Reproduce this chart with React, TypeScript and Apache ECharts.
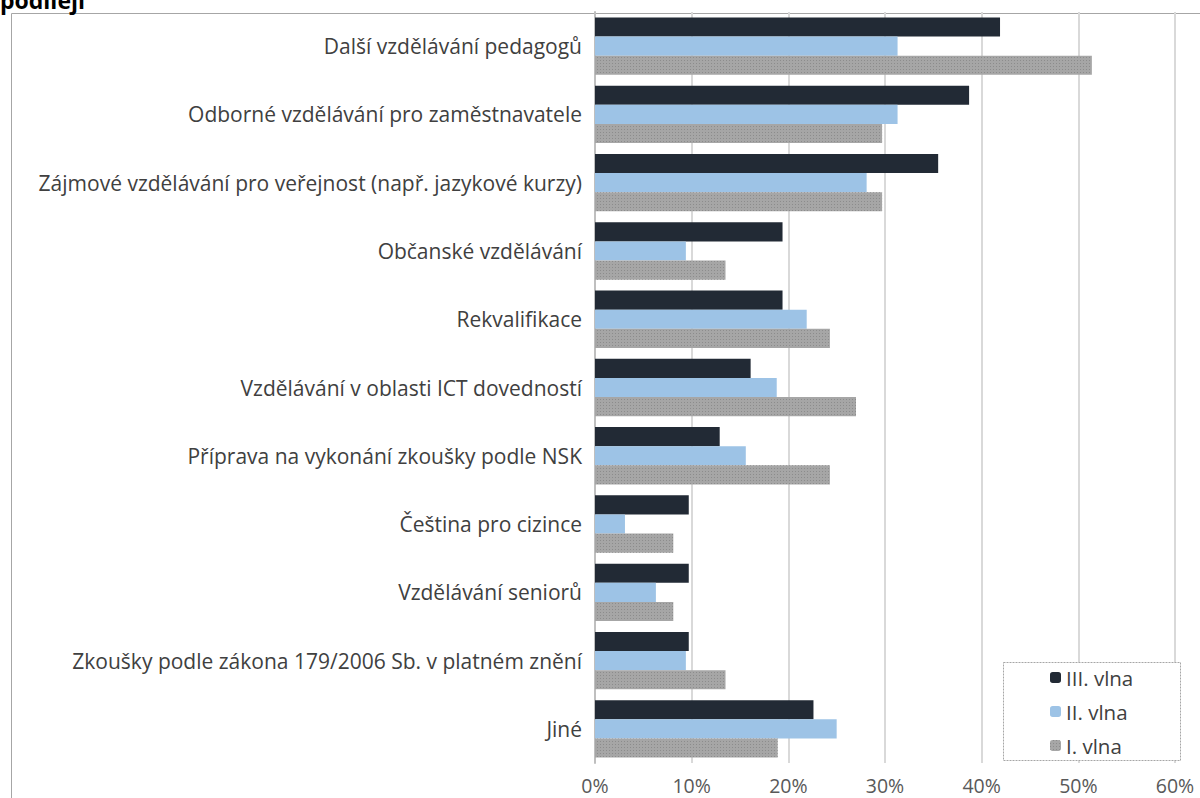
import React, { useEffect, useRef } from "react";
import * as echarts from "echarts";

const categories = [
  "Další vzdělávání pedagogů",
  "Odborné vzdělávání pro zaměstnavatele",
  "Zájmové vzdělávání pro veřejnost (např. jazykové kurzy)",
  "Občanské vzdělávání",
  "Rekvalifikace",
  "Vzdělávání v oblasti ICT dovedností",
  "Příprava na vykonání zkoušky podle NSK",
  "Čeština pro cizince",
  "Vzdělávání seniorů",
  "Zkoušky podle zákona 179/2006 Sb. v platném znění",
  "Jiné",
];

const wave3 = [41.9, 38.7, 35.5, 19.4, 19.4, 16.1, 12.9, 9.7, 9.7, 9.7, 22.6];
const wave2 = [31.3, 31.3, 28.1, 9.4, 21.9, 18.8, 15.6, 3.1, 6.3, 9.4, 25.0];
const wave1 = [51.4, 29.7, 29.7, 13.5, 24.3, 27.0, 24.3, 8.1, 8.1, 13.5, 18.9];

const seriesNames = ["III. vlna", "II. vlna", "I. vlna"];
const xTicks = [0, 10, 20, 30, 40, 50, 60];

export default function App() {
  const ref = useRef<HTMLDivElement>(null);
  useEffect(() => {
    if (!ref.current) return;
    const chart = echarts.init(ref.current, null, { renderer: "svg" });
    const font = "Open Sans";
    chart.setOption({
      animation: false,
      textStyle: { fontFamily: font },
      grid: { left: 595, right: 25, top: 12, bottom: 35, containLabel: false },
      xAxis: {
        type: "value",
        min: xTicks[0],
        max: xTicks[xTicks.length - 1],
        interval: 10,
        axisLabel: {
          formatter: "{value}%",
          color: "#595959",
          fontSize: 19.5,
          fontFamily: font,
          margin: 12,
        },
        axisLine: { show: false },
        axisTick: { show: false },
        splitLine: { show: true, lineStyle: { color: "#d9d9d9", width: 2 } },
      },
      yAxis: {
        type: "category",
        inverse: true,
        data: categories,
        axisLabel: { color: "#404040", fontSize: 21, fontFamily: font, margin: 13 },
        axisLine: { show: true, lineStyle: { color: "#bfbfbf", width: 2 } },
        axisTick: { show: false },
      },
      legend: {
        orient: "vertical",
        left: 1045,
        top: 662,
        z: 20,
        itemWidth: 11,
        itemHeight: 11,
        itemGap: 13,
        data: seriesNames,
        textStyle: { color: "#404040", fontSize: 20.5, fontFamily: font },
      },
      graphic: [
        {
          type: "rect",
          shape: { x: 11.5, y: 13.5, width: 1300, height: 900 },
          style: { fill: "none", stroke: "#a6a6a6", lineWidth: 1 },
          z: 0,
          silent: true,
        },
        {
          type: "rect",
          shape: { x: 1003.5, y: 662.5, width: 177, height: 98 },
          style: { fill: "#ffffff", stroke: "#a6a6a6", lineWidth: 1, lineDash: [2, 1] },
          z: 5,
          silent: true,
        },
        {
          type: "text",
          left: 0,
          top: -12,
          style: {
            text: "podílejí",
            font: "bold 23px 'Open Sans'",
            fill: "#000000",
          },
        },
      ],
      series: [
        {
          name: seriesNames[0],
          type: "bar",
          data: wave3,
          barGap: "0%",
          barCategoryGap: "16%",
          itemStyle: { color: "#222a35" },
          z: 3,
        },
        {
          name: seriesNames[1],
          type: "bar",
          data: wave2,
          barGap: "0%",
          barCategoryGap: "16%",
          itemStyle: { color: "#9dc3e6" },
          z: 3,
        },
        {
          name: seriesNames[2],
          type: "bar",
          data: wave1,
          barGap: "0%",
          barCategoryGap: "16%",
          itemStyle: {
            color: "#a6a6a6",
            decal: {
              symbol: "rect",
              symbolSize: 1,
              dashArrayX: [1, 2],
              dashArrayY: [1, 2],
              color: "rgba(130,130,130,0.7)",
            },
          },
          z: 3,
        },
      ],
    });
    return () => chart.dispose();
  }, []);
  return (
    <div
      ref={ref}
      style={{ width: 1200, height: 798, position: "absolute", left: 0, top: 0, background: "#fff" }}
    />
  );
}
